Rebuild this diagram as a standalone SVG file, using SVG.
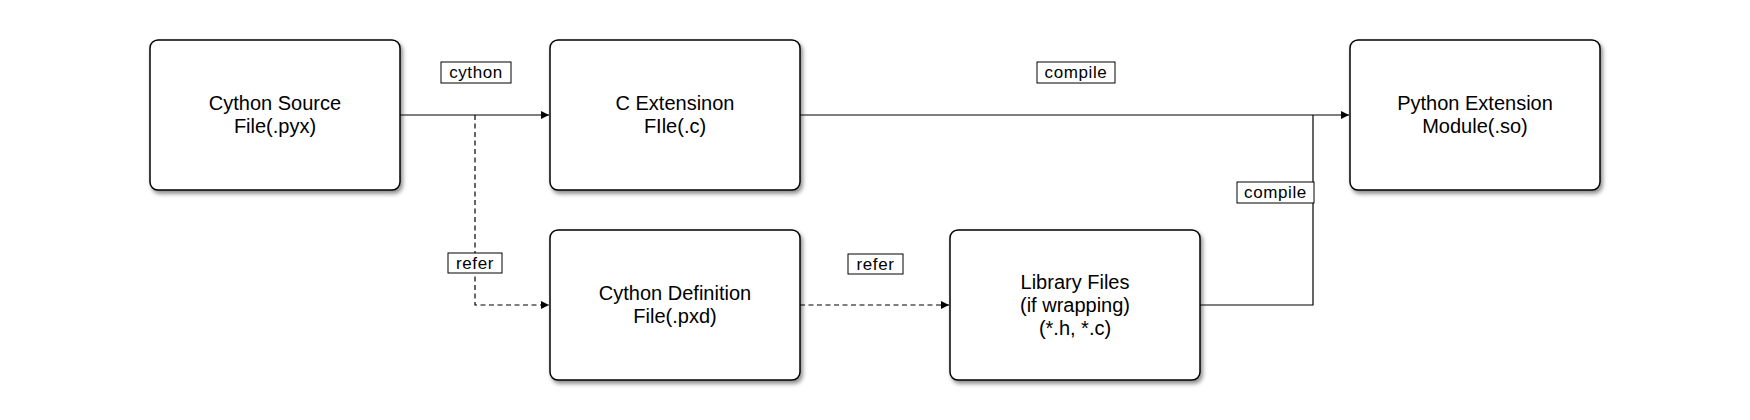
<svg xmlns="http://www.w3.org/2000/svg" width="1750" height="420" viewBox="0 0 1750 420">
  <style>
    .node rect { fill: #ffffff; stroke: #000000; stroke-width: 1.5; }
    .node text { font-family: "Liberation Sans", Arial, sans-serif; font-size: 20px; fill: #000000; text-anchor: middle; }
    .edge { fill: none; stroke: #000000; stroke-width: 1.2; }
    .dash { stroke-dasharray: 5 3.5; }
    .lbl rect { fill: #ffffff; stroke: #000000; stroke-width: 1; }
    .lbl text { font-family: "Liberation Sans", Arial, sans-serif; font-size: 17px; letter-spacing: 0.6px; fill: #000000; text-anchor: middle; }
  </style>
  <defs>
    <filter id="shadow" x="-10%" y="-10%" width="125%" height="130%">
      <feDropShadow dx="2" dy="3" stdDeviation="2" flood-color="#000000" flood-opacity="0.45"/>
    </filter>
    <marker id="arrow" viewBox="0 0 10 10" refX="10" refY="5" markerWidth="8" markerHeight="8" markerUnits="userSpaceOnUse" orient="auto">
      <path d="M0,0 L10,5 L0,10 z" fill="#000000"/>
    </marker>
  </defs>
  <rect x="0" y="0" width="1750" height="420" fill="#ffffff"/>

  <g id="connectors">
    <path class="edge" d="M400,115 L549,115" marker-end="url(#arrow)"/>
    <path class="edge dash" d="M475,115 L475,305 L549,305" marker-end="url(#arrow)"/>
    <path class="edge" d="M800,115 L1349,115" marker-end="url(#arrow)"/>
    <path class="edge dash" d="M800,305 L949,305" marker-end="url(#arrow)"/>
    <path class="edge" d="M1200,305 L1313,305 L1313,115"/>
    <g class="lbl">
      <rect x="441" y="62" width="70" height="21"/>
      <text x="476" y="78">cython</text>
    </g>
    <g class="lbl">
      <rect x="448" y="253" width="54" height="20"/>
      <text x="475" y="268.5">refer</text>
    </g>
    <g class="lbl">
      <rect x="1037" y="62" width="78" height="21"/>
      <text x="1076" y="78">compile</text>
    </g>
    <g class="lbl">
      <rect x="848" y="254" width="55" height="20"/>
      <text x="875.5" y="269.5">refer</text>
    </g>
    <g class="lbl">
      <rect x="1237" y="182" width="77" height="21"/>
      <text x="1275.5" y="198">compile</text>
    </g>
  </g>

  <g id="node-cython-source" class="node">
    <rect x="150" y="40" width="250" height="150" rx="8" filter="url(#shadow)"/>
    <text x="275" y="110">Cython Source</text>
    <text x="275" y="133">File(.pyx)</text>
  </g>
  <g id="node-c-extension" class="node">
    <rect x="550" y="40" width="250" height="150" rx="8" filter="url(#shadow)"/>
    <text x="675" y="110">C Extensinon</text>
    <text x="675" y="133">FIle(.c)</text>
  </g>
  <g id="node-python-extension" class="node">
    <rect x="1350" y="40" width="250" height="150" rx="8" filter="url(#shadow)"/>
    <text x="1475" y="110">Python Extension</text>
    <text x="1475" y="133">Module(.so)</text>
  </g>
  <g id="node-cython-definition" class="node">
    <rect x="550" y="230" width="250" height="150" rx="8" filter="url(#shadow)"/>
    <text x="675" y="300">Cython Definition</text>
    <text x="675" y="323">File(.pxd)</text>
  </g>
  <g id="node-library-files" class="node">
    <rect x="950" y="230" width="250" height="150" rx="8" filter="url(#shadow)"/>
    <text x="1075" y="289">Library Files</text>
    <text x="1075" y="312">(if wrapping)</text>
    <text x="1075" y="335">(*.h, *.c)</text>
  </g>
</svg>
